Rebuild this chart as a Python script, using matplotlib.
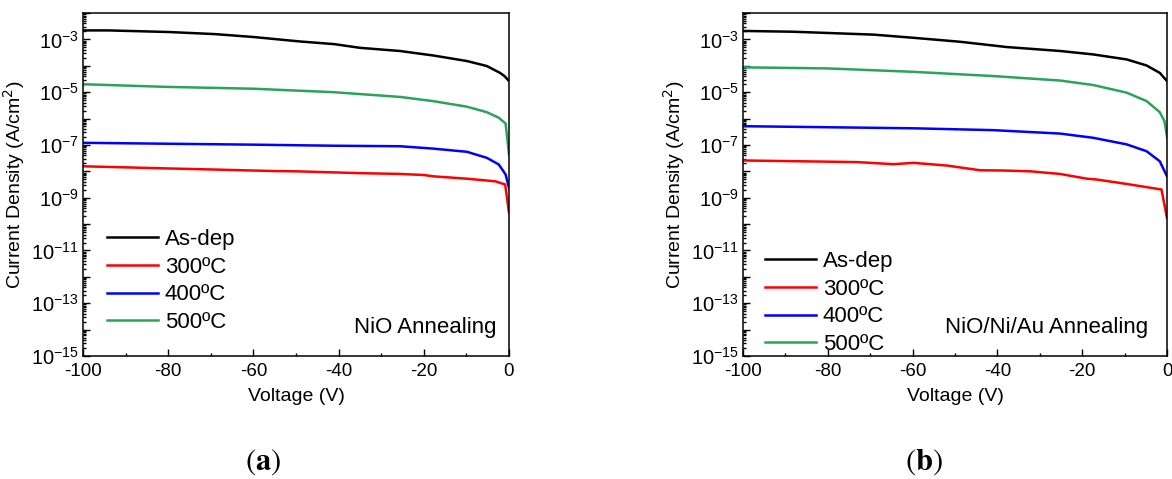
import matplotlib
matplotlib.use("Agg")
import matplotlib.pyplot as plt
import matplotlib.ticker as mticker
import numpy as np

plt.rcParams['font.family'] = ['Liberation Sans', 'DejaVu Sans']
plt.rcParams['axes.unicode_minus'] = False

labels = ["As-dep", "300ºC", "400ºC", "500ºC"]
colors = ["#000000", "#ff0000", "#0000ff", "#2ca25f"]

# Panel (a): NiO annealing  (voltage in V, log10 of current density in A/cm^2)
a_asdep_v = [-100, -94, -80, -69, -60, -49, -41, -35, -25.6, -17.8, -9.9, -5.2, -2.1, -1.0, 0]
a_asdep_l = [-2.66, -2.66, -2.72, -2.80, -2.91, -3.08, -3.18, -3.32, -3.44, -3.61, -3.82, -4.01, -4.27, -4.40, -4.58]
a_300_v = [-100, -90, -80.4, -70, -60.1, -55, -50, -41.3, -35, -25.6, -20, -17.8, -9.9, -3.2, -0.9, 0]
a_300_l = [-7.81, -7.85, -7.89, -7.93, -7.97, -7.99, -8.00, -8.04, -8.07, -8.10, -8.14, -8.19, -8.28, -8.38, -8.50, -9.57]
a_400_v = [-100, -60.1, -41.3, -25.6, -17.8, -9.9, -5.2, -2.4, -0.8, 0]
a_400_l = [-6.92, -6.99, -7.03, -7.05, -7.14, -7.26, -7.49, -7.74, -8.12, -8.63]
a_500_v = [-100, -80.4, -60.1, -41.3, -25.6, -17.8, -9.9, -5.2, -2.4, -0.8, 0]
a_500_l = [-4.70, -4.80, -4.87, -5.00, -5.18, -5.34, -5.55, -5.76, -5.97, -6.19, -7.36]

# Panel (b): NiO/Ni/Au annealing
b_asdep_v = [-100, -88.1, -69.2, -59.8, -48.8, -37.8, -25.2, -17.4, -9.5, -4.8, -1.7, 0]
b_asdep_l = [-2.68, -2.71, -2.82, -2.94, -3.09, -3.29, -3.44, -3.57, -3.76, -3.99, -4.27, -4.58]
b_300_v = [-99.8, -73.2, -64.5, -59.8, -52, -44.1, -38.6, -32.3, -25.2, -18.9, -16.6, -9.5, -1.3, 0]
b_300_l = [-7.59, -7.65, -7.73, -7.68, -7.78, -7.96, -7.97, -8.00, -8.10, -8.28, -8.31, -8.48, -8.69, -9.77]
b_400_v = [-100, -59.8, -41, -25.2, -17.4, -9.5, -4.8, -1.7, 0]
b_400_l = [-6.29, -6.37, -6.44, -6.57, -6.73, -6.98, -7.24, -7.62, -8.19]
b_500_v = [-100, -80.2, -59.8, -41, -25.2, -17.4, -9.5, -4.8, -1.7, -0.6, 0]
b_500_l = [-4.06, -4.10, -4.23, -4.39, -4.56, -4.73, -5.02, -5.34, -5.76, -6.10, -6.69]

panels = [
    dict(v=[a_asdep_v, a_300_v, a_400_v, a_500_v], l=[a_asdep_l, a_300_l, a_400_l, a_500_l],
         note="NiO Annealing", tag="a"),
    dict(v=[b_asdep_v, b_300_v, b_400_v, b_500_v], l=[b_asdep_l, b_300_l, b_400_l, b_500_l],
         note="NiO/Ni/Au Annealing", tag="b"),
]

W, H = 1172, 479
fig = plt.figure(figsize=(W / 100, H / 100), dpi=100)

ax_rects = [(83, 13, 509, 356), (743, 13, 1167, 356)]
leg_anchor = [(107, 226), (765, 248)]
note_pos = [(496, 327), (1148, 327)]
tag_pos = [(263, 462), (924, 462)]

yt_major = [10.0 ** e for e in range(-15, -1)]
yt_labels = [r"$\mathregular{10^{-%d}}$" % (-e) if e % 2 else "" for e in range(-15, -1)]

for p, rect, la, npos, tpos in zip(panels, ax_rects, leg_anchor, note_pos, tag_pos):
    x0, y0, x1, y1 = rect
    ax = fig.add_axes([x0 / W, 1 - y1 / H, (x1 - x0) / W, (y1 - y0) / H])
    for v, l, c, lab in zip(p["v"], p["l"], colors, labels):
        ax.plot(v, 10.0 ** np.array(l), color=c, lw=1.8, label=lab)
    ax.set_yscale("log")
    ax.set_xlim(-100, 0)
    ax.set_ylim(1e-15, 1e-2)
    ax.xaxis.set_major_locator(mticker.MultipleLocator(20))
    ax.xaxis.set_minor_locator(mticker.MultipleLocator(10))
    ax.yaxis.set_major_locator(mticker.FixedLocator(yt_major))
    ax.yaxis.set_major_formatter(mticker.FixedFormatter(yt_labels))
    ax.yaxis.set_minor_locator(mticker.LogLocator(base=10, subs=np.arange(2, 10), numticks=30))
    ax.yaxis.set_minor_formatter(mticker.NullFormatter())
    ax.tick_params(which="both", direction="in", width=1.0)
    ax.tick_params(axis="x", labelsize=13.5, pad=5)
    ax.tick_params(axis="y", labelsize=14.5, pad=3)
    ax.tick_params(which="major", length=5)
    ax.tick_params(which="minor", length=2.5)
    for s in ax.spines.values():
        s.set_linewidth(1.1)
    ax.set_xlabel("Voltage (V)", fontsize=14, labelpad=6)
    ax.set_ylabel("Current Density (A/cm$^2$)", fontsize=14, labelpad=3)
    ax.legend(loc="upper left", bbox_to_anchor=(la[0] / W, 1 - (la[1] + 3) / H),
              bbox_transform=fig.transFigure, frameon=False, fontsize=16,
              handlelength=2.3, handletextpad=0.3, labelspacing=0.3,
              borderpad=0, borderaxespad=0)
    fig.text(npos[0] / W, 1 - npos[1] / H, p["note"], fontsize=16, ha="right", va="center")
    fig.text(tpos[0] / W, 1 - tpos[1] / H, r"$\mathrm{(}\mathbf{%s}\mathrm{)}$" % p["tag"],
             fontsize=22, ha="center", va="center", math_fontfamily="stix")

fig.savefig("out.png", dpi=100)
